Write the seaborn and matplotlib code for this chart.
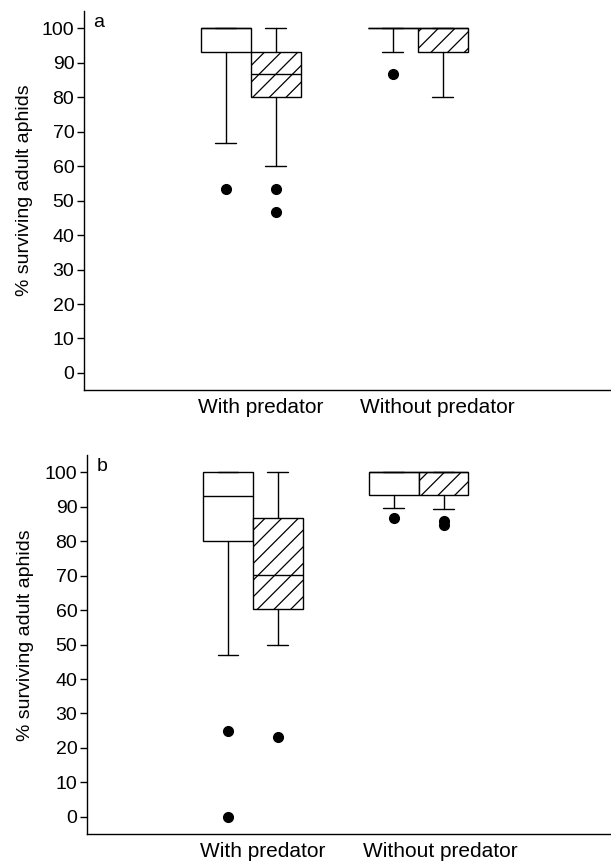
import matplotlib
matplotlib.use("Agg")
import matplotlib.pyplot as plt
import seaborn as sns

# ---------------- data ----------------
groups = ["With predator", "Without predator"]
treatments = ["open", "hatched"]

# panel a : summary statistics for boxes in order
# [with/open, with/hatched, without/open, without/hatched]
a_med = [100, 86.7, 100, 100]
a_q1 = [93.3, 80, 100, 93.3]
a_q3 = [100, 93.3, 100, 100]
a_wlo = [66.7, 60, 93.3, 80]
a_whi = [100, 100, 100, 100]
a_fliers = [[53.3], [53.3, 46.7], [86.7], []]

# panel b
b_med = [93, 70.3, 100, 100]
b_q1 = [80, 60.3, 93.3, 93.3]
b_q3 = [100, 86.7, 100, 100]
b_wlo = [47, 50, 89.8, 89.3]
b_whi = [100, 100, 100, 100]
b_fliers = [[25, 0], [23.2], [86.7], [85.8, 84.8]]

yticks = list(range(0, 101, 10))
ylabel = "% surviving adult aphids"
panel_letters = ["a", "b"]

# ---------------- style ----------------
sns.set_theme(style="ticks")
plt.rcParams["font.family"] = ["Liberation Sans", "DejaVu Sans"]
plt.rcParams["hatch.linewidth"] = 0.9

fig = plt.figure(figsize=(6.11, 8.65), dpi=100)
ax_a = fig.add_axes([0.1375, 0.549, 0.8625, 0.438])
ax_b = fig.add_axes([0.1424, 0.0358, 0.8576, 0.438])

def draw(ax, med, q1, q3, wlo, whi, fliers, letter, xlab_pos, ylab_xy):
    stats = []
    positions = []
    for gi in range(len(groups)):
        for ti in range(len(treatments)):
            k = gi * len(treatments) + ti
            stats.append(dict(med=med[k], q1=q1[k], q3=q3[k],
                              whislo=wlo[k], whishi=whi[k], fliers=fliers[k]))
            positions.append(gi + (ti - 0.5) * 0.3)
    lw = 1.0
    bp = ax.bxp(stats, positions=positions, widths=0.3, patch_artist=True,
                capwidths=0.126, manage_ticks=False,
                boxprops=dict(facecolor="white", edgecolor="black", linewidth=lw),
                medianprops=dict(color="black", linewidth=lw),
                whiskerprops=dict(color="black", linewidth=lw),
                capprops=dict(color="black", linewidth=lw),
                flierprops=dict(marker="o", markerfacecolor="black",
                                markeredgecolor="black", markersize=7))
    for k, patch in enumerate(bp["boxes"]):
        if treatments[k % len(treatments)] == "hatched":
            patch.set_hatch("//")
    ax.set_ylim(-5, 105)
    ax.set_yticks(yticks)
    ax.set_xlim(-1.0, 2.16)
    ax.set_xticks(xlab_pos)
    ax.set_xticklabels(groups)
    ax.tick_params(axis="x", length=0, pad=6, labelsize=15, colors="black")
    ax.tick_params(axis="y", direction="out", length=5, width=1.0, pad=2,
                   labelsize=14, colors="black")
    ax.set_ylabel(ylabel, fontsize=14, color="black")
    ax.yaxis.set_label_coords(*ylab_xy)
    for side in ["top", "right"]:
        ax.spines[side].set_visible(False)
    for side in ["left", "bottom"]:
        ax.spines[side].set_linewidth(1.0)
        ax.spines[side].set_color("black")
    ax.text(0.018, 0.958, letter, transform=ax.transAxes, fontsize=14,
            ha="left", va="baseline", color="black")
    ax.set_facecolor("white")

draw(ax_a, a_med, a_q1, a_q3, a_wlo, a_whi, a_fliers, panel_letters[0],
     [0.06, 1.12], (-0.097, 0.529))
draw(ax_b, b_med, b_q1, b_q3, b_wlo, b_whi, b_fliers, panel_letters[1],
     [0.06, 1.13], (-0.102, 0.525))

fig.savefig("out.png", dpi=100, facecolor="white")
